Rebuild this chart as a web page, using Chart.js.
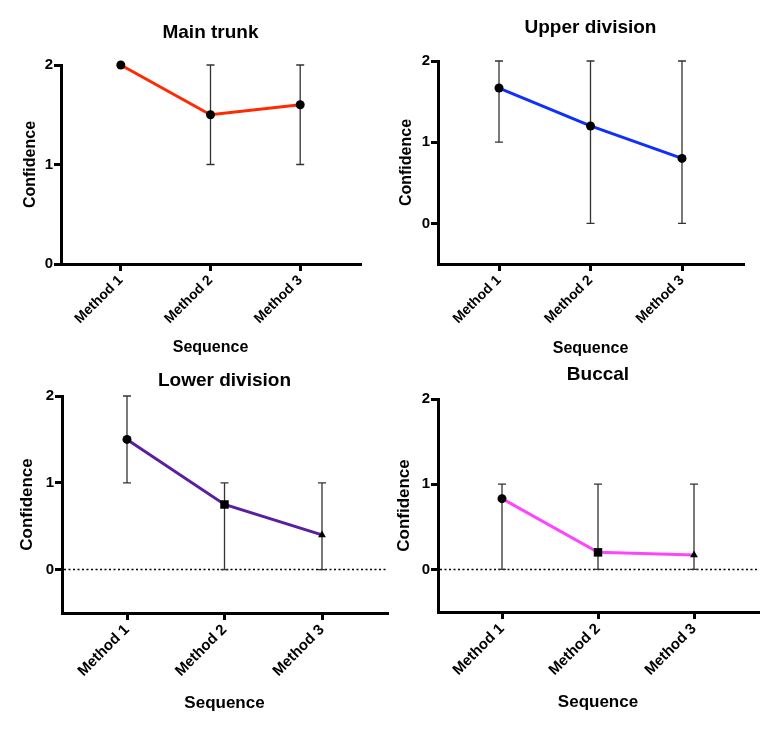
<!DOCTYPE html>
<html>
  <head>
    <script src="https://cdn.jsdelivr.net/npm/chart.js"></script>
    <style>
      body { margin: 0; background: #fff; }
      #wrap { position: relative; width: 772px; height: 731px; }
      canvas { position: absolute; }
    </style>
  </head>
  <body>
    <div id="wrap">
      <canvas id="c1" style="left:0px;top:0px" width="386" height="365"></canvas>
      <canvas id="c2" style="left:386px;top:0px" width="386" height="365"></canvas>
      <canvas id="c3" style="left:0px;top:360px" width="392" height="371"></canvas>
      <canvas id="c4" style="left:386px;top:360px" width="386" height="371"></canvas>
    </div>

    <script>
      // data
      var methods = ["Method 1", "Method 2", "Method 3"];
      var yTicks = [0, 1, 2];

      var mainTrunk = [2, 1.5, 1.6];
      var mainTrunkLow = [2, 1, 1];
      var mainTrunkHigh = [2, 2, 2];

      var upperDiv = [1.667, 1.2, 0.8];
      var upperDivLow = [1, 0, 0];
      var upperDivHigh = [2, 2, 2];

      var lowerDiv = [1.5, 0.75, 0.4];
      var lowerDivLow = [1, 0, 0];
      var lowerDivHigh = [2, 1, 1];

      var buccal = [0.83, 0.2, 0.17];
      var buccalLow = [0, 0, 0];
      var buccalHigh = [1, 1, 1];

      var FONT = "'Liberation Sans', Arial, Helvetica, sans-serif";

      // error bars + dotted zero line, drawn under the line
      var extras = {
        id: "extras",
        beforeDatasetsDraw(chart, args, opts) {
          const ctx = chart.ctx;
          const xs = chart.scales.x;
          const ys = chart.scales.y;
          const area = chart.chartArea;
          ctx.save();
          if (opts.zeroLine) {
            const y0 = ys.getPixelForValue(0);
            ctx.strokeStyle = "#000";
            ctx.lineWidth = 1.5;
            ctx.setLineDash([2, 2.5]);
            ctx.beginPath();
            ctx.moveTo(area.left + 2, y0);
            ctx.lineTo(area.right - 1, y0);
            ctx.stroke();
            ctx.setLineDash([]);
          }
          ctx.strokeStyle = "#333";
          ctx.lineWidth = 1.3;
          for (let i = 0; i < opts.low.length; i++) {
            if (opts.low[i] === opts.high[i]) continue;
            const x = xs.getPixelForValue(i);
            const yl = ys.getPixelForValue(opts.low[i]);
            const yh = ys.getPixelForValue(opts.high[i]);
            ctx.beginPath();
            ctx.moveTo(x, yl);
            ctx.lineTo(x, yh);
            ctx.moveTo(x - 4, yl);
            ctx.lineTo(x + 4, yl);
            ctx.moveTo(x - 4, yh);
            ctx.lineTo(x + 4, yh);
            ctx.stroke();
          }
          ctx.restore();
        },
      };

      function makeChart(id, cfg) {
        const ctx = document.getElementById(id).getContext("2d");
        const pts = cfg.values.map((v, i) => ({ x: i, y: v }));
        return new Chart(ctx, {
          type: "line",
          data: {
            datasets: [
              {
                data: pts,
                clip: false,
                borderColor: cfg.colour,
                borderWidth: 3,
                pointBackgroundColor: "#000",
                pointBorderColor: "#000",
                pointBorderWidth: 0,
                pointStyle: cfg.shapes,
                pointRadius: cfg.shapes.map((s) => (s === "rect" ? 6 : 4.5)),
                fill: false,
                tension: 0,
              },
            ],
          },
          options: {
            responsive: false,
            animation: false,
            layout: { padding: { left: 0, right: cfg.padRight, top: 0, bottom: 0 } },
            scales: {
              x: {
                type: "linear",
                min: -2 / 3,
                max: 8 / 3,
                afterBuildTicks: (s) => {
                  s.ticks = methods.map((m, i) => ({ value: i }));
                },
                afterFit: (s) => {
                  s.height = cfg.xHeight;
                },
                border: { display: true, width: 3, color: "#000" },
                grid: {
                  drawOnChartArea: false,
                  drawTicks: true,
                  tickLength: 7,
                  lineWidth: 3,
                  color: "#000",
                },
                ticks: {
                  color: "#000",
                  padding: 1,
                  minRotation: 45,
                  maxRotation: 45,
                  font: { family: FONT, size: cfg.tickSize, weight: "bold" },
                  callback: (v) => methods[v],
                },
                title: {
                  display: true,
                  text: "Sequence",
                  color: "#000",
                  padding: { top: 0, bottom: cfg.xTitlePad },
                  font: { family: FONT, size: cfg.axisSize, weight: "bold" },
                },
              },
              y: {
                min: cfg.yMin,
                max: 2,
                afterBuildTicks: (s) => {
                  s.ticks = yTicks.map((v) => ({ value: v }));
                },
                afterFit: (s) => {
                  s.width = cfg.yWidth;
                },
                border: { display: true, width: 3, color: "#000" },
                grid: {
                  drawOnChartArea: false,
                  drawTicks: true,
                  tickLength: 7,
                  lineWidth: 3,
                  color: "#000",
                },
                ticks: {
                  color: "#000",
                  padding: 1,
                  font: { family: FONT, size: 15, weight: "bold" },
                },
                title: {
                  display: true,
                  text: "Confidence",
                  color: "#000",
                  padding: { top: cfg.yTitlePad, bottom: 0 },
                  font: { family: FONT, size: cfg.axisSize, weight: "bold" },
                },
              },
            },
            plugins: {
              legend: { display: false },
              tooltip: { enabled: false },
              title: {
                display: true,
                text: cfg.title,
                color: "#000",
                fullSize: false,
                padding: { top: cfg.titleTop, bottom: cfg.titleBottom },
                font: { family: FONT, size: 19, weight: "bold" },
              },
              extras: { low: cfg.low, high: cfg.high, zeroLine: cfg.zeroLine },
            },
          },
          plugins: [extras],
        });
      }

      makeChart("c1", {
        title: "Main trunk",
        values: mainTrunk, low: mainTrunkLow, high: mainTrunkHigh,
        colour: "#ff2a00",
        shapes: ["circle", "circle", "circle"],
        yMin: 0, zeroLine: false,
        padRight: 26, yWidth: 61, xHeight: 101,
        titleTop: 21.6, titleBottom: 20.6,
        yTitlePad: 21.4, xTitlePad: 7.4,
        tickSize: 14, axisSize: 16,
      });

      makeChart("c2", {
        title: "Upper division",
        values: upperDiv, low: upperDivLow, high: upperDivHigh,
        colour: "#0f2fff",
        shapes: ["circle", "circle", "circle"],
        yMin: -0.5, zeroLine: false,
        padRight: 29, yWidth: 52, xHeight: 101,
        titleTop: 16.6, titleBottom: 21.6,
        yTitlePad: 11.4, xTitlePad: 6.4,
        tickSize: 14, axisSize: 16,
      });

      makeChart("c3", {
        title: "Lower division",
        values: lowerDiv, low: lowerDivLow, high: lowerDivHigh,
        colour: "#5a1f9e",
        shapes: ["circle", "rect", "triangle"],
        yMin: -0.5, zeroLine: true,
        padRight: 5, yWidth: 62, xHeight: 118,
        titleTop: 9.6, titleBottom: 3.6,
        yTitlePad: 16.8, xTitlePad: 17.8,
        tickSize: 15, axisSize: 17,
      });

      makeChart("c4", {
        title: "Buccal",
        values: buccal, low: buccalLow, high: buccalHigh,
        colour: "#ff44ff",
        shapes: ["circle", "rect", "triangle"],
        yMin: -0.5, zeroLine: true,
        padRight: 14, yWidth: 52, xHeight: 119,
        titleTop: 3.6, titleBottom: 12.6,
        yTitlePad: 7.8, xTitlePad: 18.8,
        tickSize: 15, axisSize: 17,
      });
    </script>
  </body>
</html>
